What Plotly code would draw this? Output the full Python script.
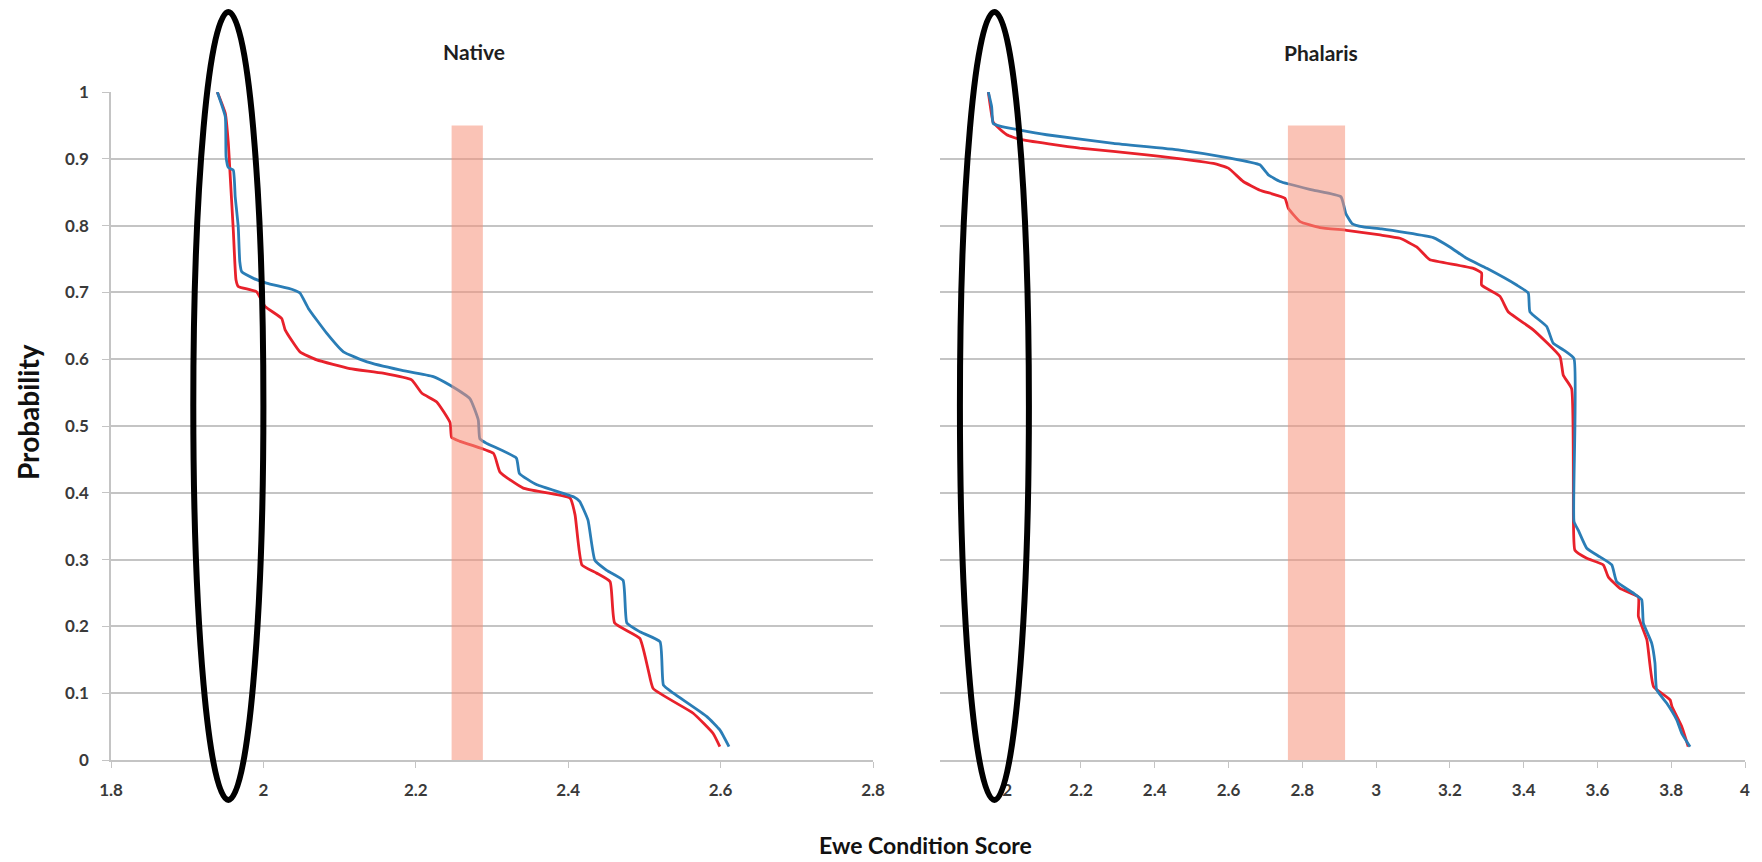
import plotly.graph_objects as go

# ---------------- data ----------------
native_blue_x = [1.9395, 1.950, 1.951, 1.954, 1.9605, 1.963, 1.967, 1.969, 1.9715, 1.987, 2.004, 2.039, 2.048,
                 2.059, 2.083, 2.105, 2.136, 2.179, 2.223, 2.245, 2.271, 2.282, 2.284, 2.293, 2.332, 2.336,
                 2.359, 2.407, 2.415, 2.426, 2.435, 2.4505, 2.472, 2.477, 2.494, 2.5205, 2.525, 2.538,
                 2.582, 2.599, 2.611]
native_blue_y = [1.0, 0.963, 0.903, 0.887, 0.883, 0.843, 0.798, 0.746, 0.731, 0.721, 0.714, 0.704, 0.699,
                 0.676, 0.639, 0.611, 0.596, 0.584, 0.574, 0.561, 0.541, 0.509, 0.481, 0.474, 0.452, 0.429,
                 0.412, 0.394, 0.387, 0.359, 0.299, 0.284, 0.269, 0.205, 0.192, 0.177, 0.112, 0.100,
                 0.065, 0.045, 0.020]

native_red_x = [1.9395, 1.950, 1.954, 1.956, 1.9605, 1.964, 1.967, 1.991, 2.002, 2.024, 2.0285, 2.048, 2.070,
                2.1135, 2.157, 2.1945, 2.208, 2.2275, 2.245, 2.247, 2.258, 2.302, 2.3105, 2.341, 2.4025,
                2.409, 2.418, 2.437, 2.455, 2.461, 2.494, 2.505, 2.5115, 2.564, 2.590, 2.599]
native_red_y = [1.0, 0.968, 0.923, 0.883, 0.793, 0.719, 0.709, 0.701, 0.679, 0.661, 0.644, 0.611, 0.599,
                0.586, 0.579, 0.569, 0.549, 0.536, 0.505, 0.483, 0.477, 0.459, 0.431, 0.407, 0.392,
                0.367, 0.292, 0.280, 0.267, 0.205, 0.182, 0.135, 0.107, 0.070, 0.040, 0.020]

phalaris_blue_x = [1.949, 1.958, 1.962, 1.9805, 2.035, 2.107, 2.288, 2.468, 2.604, 2.685, 2.708, 2.7395,
                   2.830, 2.905, 2.918, 2.935, 2.965, 3.015, 3.155, 3.200, 3.2455, 3.300, 3.381, 3.4125,
                   3.417, 3.4625, 3.480, 3.5075, 3.5365, 3.5365, 3.548, 3.571, 3.607, 3.639, 3.652, 3.697,
                   3.720, 3.7245, 3.747, 3.756, 3.7605, 3.788, 3.815, 3.8285, 3.851]
phalaris_blue_y = [1.0, 0.978, 0.953, 0.949, 0.943, 0.936, 0.923, 0.913, 0.901, 0.891, 0.876, 0.866,
                   0.853, 0.843, 0.818, 0.803, 0.798, 0.795, 0.782, 0.768, 0.751, 0.736, 0.711, 0.699,
                   0.671, 0.649, 0.624, 0.614, 0.601, 0.357, 0.344, 0.317, 0.304, 0.292, 0.267, 0.250,
                   0.240, 0.205, 0.175, 0.145, 0.105, 0.085, 0.060, 0.040, 0.020]

phalaris_red_x = [1.949, 1.962, 1.9715, 1.999, 2.035, 2.197, 2.378, 2.559, 2.5995, 2.640, 2.685, 2.753,
                  2.762, 2.794, 2.848, 2.920, 3.011, 3.065, 3.110, 3.137, 3.146, 3.2635, 3.286, 3.286,
                  3.336, 3.358, 3.426, 3.4985, 3.5075, 3.530, 3.535, 3.539, 3.571, 3.616, 3.6295, 3.661,
                  3.711, 3.711, 3.734, 3.752, 3.797, 3.802, 3.8285, 3.846]
phalaris_red_y = [1.0, 0.955, 0.949, 0.936, 0.929, 0.916, 0.906, 0.893, 0.886, 0.866, 0.853, 0.841,
                  0.826, 0.806, 0.797, 0.793, 0.786, 0.781, 0.768, 0.753, 0.749, 0.736, 0.729, 0.711,
                  0.694, 0.671, 0.644, 0.604, 0.576, 0.556, 0.354, 0.314, 0.302, 0.292, 0.274, 0.257,
                  0.244, 0.215, 0.180, 0.110, 0.090, 0.080, 0.050, 0.020]

panel_titles = ["Native", "Phalaris"]
y_tickvals = [0, 0.1, 0.2, 0.3, 0.4, 0.5, 0.6, 0.7, 0.8, 0.9, 1.0]
y_ticktext = ["0", "0.1", "0.2", "0.3", "0.4", "0.5", "0.6", "0.7", "0.8", "0.9", "1"]
native_xticks = [1.8, 2.0, 2.2, 2.4, 2.6, 2.8]
native_xticktext = ["1.8", "2", "2.2", "2.4", "2.6", "2.8"]
phalaris_xticks = [2.0, 2.2, 2.4, 2.6, 2.8, 3.0, 3.2, 3.4, 3.6, 3.8, 4.0]
phalaris_xticktext = ["2", "2.2", "2.4", "2.6", "2.8", "3", "3.2", "3.4", "3.6", "3.8", "4"]

native_band = [2.247, 2.288]
phalaris_band = [2.761, 2.916]
band_top = 0.95
native_ellipse = [1.908, 2.000]
phalaris_ellipse = [1.872, 2.059]

# ---------------- styling ----------------
RED = "#E8212B"
BLUE = "#2A7DB6"
GRID = "#C4C4C4"
FONT = "Lato"
SCREEN_W, SCREEN_H = 1762, 862
OFF = 8  # page body margin
W, H = SCREEN_W - OFF, SCREEN_H - OFF


def px(xs):  # screen px -> paper x
    return (xs - OFF) / W


def py(ys):  # screen px -> paper y
    return (SCREEN_H - ys) / H


fig = go.Figure()

line_kw = dict(mode="lines", line_shape="spline", showlegend=False, hoverinfo="skip")
fig.add_trace(go.Scatter(x=native_red_x, y=native_red_y, line=dict(color=RED, width=2.8, smoothing=0.4),
                         xaxis="x", yaxis="y", **line_kw))
fig.add_trace(go.Scatter(x=native_blue_x, y=native_blue_y, line=dict(color=BLUE, width=2.8, smoothing=0.4),
                         xaxis="x", yaxis="y", **line_kw))
fig.add_trace(go.Scatter(x=phalaris_red_x, y=phalaris_red_y, line=dict(color=RED, width=2.8, smoothing=0.4),
                         xaxis="x2", yaxis="y2", **line_kw))
fig.add_trace(go.Scatter(x=phalaris_blue_x, y=phalaris_blue_y, line=dict(color=BLUE, width=2.8, smoothing=0.4),
                         xaxis="x2", yaxis="y2", **line_kw))

y_dom = [py(760), py(92)]
tickfont = dict(family=FONT, size=17, color="#3A3A3A", weight="bold")

common_x = dict(showgrid=False, zeroline=False, showline=True, linecolor=GRID, linewidth=1.5,
                ticks="outside", ticklen=6, tickwidth=1.2, tickcolor=GRID, tickfont=tickfont,
                ticklabelstandoff=8, fixedrange=True, automargin=False)
common_y = dict(range=[0, 1], showgrid=True, gridcolor=GRID, gridwidth=1.5, zeroline=False,
                tickvals=y_tickvals, ticktext=y_ticktext, tickfont=tickfont, fixedrange=True,
                automargin=False)

fig.update_layout(
    template="none",
    width=W, height=H,
    margin=dict(l=0, r=0, t=0, b=0, pad=0, autoexpand=False),
    paper_bgcolor="white", plot_bgcolor="white",
    xaxis=dict(domain=[px(111), px(873)], range=[1.8, 2.8], tickvals=native_xticks,
               ticktext=native_xticktext, anchor="y", **common_x),
    yaxis=dict(domain=y_dom, anchor="x", showline=True, linecolor=GRID, linewidth=1.5,
               ticks="outside", ticklen=7, tickcolor=GRID, ticklabelstandoff=10, **common_y),
    xaxis2=dict(domain=[px(940), px(1745)], range=[1.818, 4.0], tickvals=phalaris_xticks,
                ticktext=phalaris_xticktext, anchor="y2", **common_x),
    yaxis2=dict(domain=y_dom, anchor="x2", showline=False, ticks="", showticklabels=False, **common_y),
)

# highlight bands (semi-transparent, above the lines)
band_fill = "rgba(246,146,122,0.55)"
fig.add_shape(type="rect", xref="x", yref="y", x0=native_band[0], x1=native_band[1], y0=0, y1=band_top,
              fillcolor=band_fill, line=dict(width=0), layer="above")
fig.add_shape(type="rect", xref="x2", yref="y2", x0=phalaris_band[0], x1=phalaris_band[1], y0=0, y1=band_top,
              fillcolor=band_fill, line=dict(width=0), layer="above")

# black ellipses
fig.add_shape(type="circle", xref="x", yref="paper", x0=native_ellipse[0], x1=native_ellipse[1],
              y0=py(800), y1=py(12), line=dict(color="black", width=6), layer="above")
fig.add_shape(type="circle", xref="x2", yref="paper", x0=phalaris_ellipse[0], x1=phalaris_ellipse[1],
              y0=py(800), y1=py(12), line=dict(color="black", width=6), layer="above")

# titles
title_font = dict(family=FONT, size=21, color="#1E1E1E", weight="bold")
fig.add_annotation(text=panel_titles[0], x=px(474), y=py(52), xref="paper", yref="paper",
                   showarrow=False, font=title_font, xanchor="center", yanchor="middle")
fig.add_annotation(text=panel_titles[1], x=px(1321), y=py(53), xref="paper", yref="paper",
                   showarrow=False, font=title_font, xanchor="center", yanchor="middle")
fig.add_annotation(text="Probability", x=px(28), y=py(412), xref="paper", yref="paper",
                   showarrow=False, textangle=-90, xanchor="center", yanchor="middle",
                   font=dict(family=FONT, size=28, color="#111111", weight="bold"))
fig.add_annotation(text="Ewe Condition Score", x=px(925), y=py(845), xref="paper", yref="paper",
                   showarrow=False, xanchor="center", yanchor="middle",
                   font=dict(family=FONT, size=23, color="#111111", weight="bold"))

fig.write_html("out.html")
